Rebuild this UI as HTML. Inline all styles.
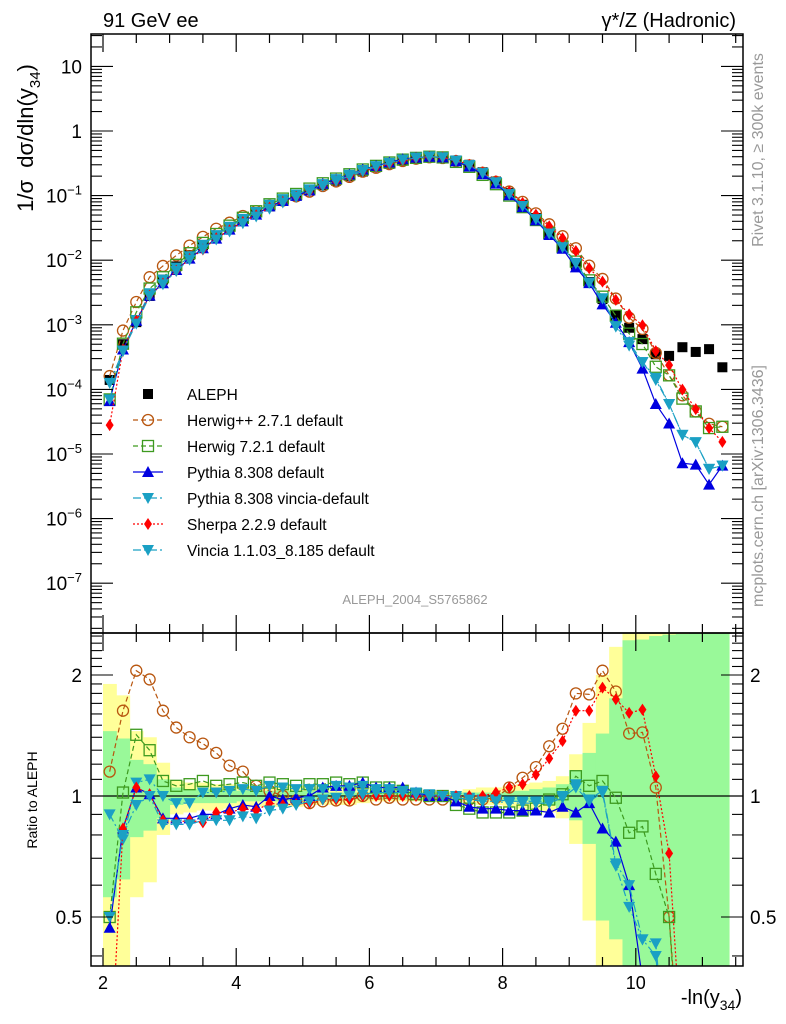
<!DOCTYPE html>
<html><head><meta charset="utf-8"><style>
html,body{margin:0;padding:0;background:#fff;width:786px;height:1024px;overflow:hidden;}
svg{display:block;font-family:"Liberation Sans",sans-serif;}
</style></head><body>
<svg id="chart" width="786" height="1024" viewBox="0 0 786 1024" xmlns="http://www.w3.org/2000/svg">
<defs>
<clipPath id="clipMain"><rect x="91" y="34" width="652" height="599"/></clipPath>
<clipPath id="clipRatio"><rect x="91" y="633" width="652" height="333"/></clipPath>
</defs>
<g id="bands" clip-path="url(#clipRatio)"></g>
<g id="ratioMarks" clip-path="url(#clipRatio)"></g>
<g id="mainMarks" clip-path="url(#clipMain)"></g>
<g id="axes"></g>
<text x="103" y="27" font-size="20">91 GeV ee</text>
<text x="736" y="27" font-size="20" text-anchor="end">γ*/Z (Hadronic)</text>
<text x="415" y="604" font-size="13" fill="#999" text-anchor="middle">ALEPH_2004_S5765862</text>
<text transform="translate(763,150) rotate(-90)" font-size="16" fill="#999" text-anchor="middle">Rivet 3.1.10, ≥ 300k events</text>
<text transform="translate(763,486) rotate(-90)" font-size="16" fill="#999" text-anchor="middle">mcplots.cern.ch [arXiv:1306.3436]</text>
<text transform="translate(33,138) rotate(-90)" font-size="22" text-anchor="middle" xml:space="preserve">1/σ  dσ/dln(y<tspan font-size="15" dy="7">34</tspan><tspan dy="-7">)</tspan></text>
<text transform="translate(37,800) rotate(-90)" font-size="14" text-anchor="middle">Ratio to ALEPH</text>
<text x="742" y="1004" font-size="20" text-anchor="end">-ln(y<tspan font-size="14" dy="6">34</tspan><tspan dy="-6">)</tspan></text>
<g id="legend"></g>
</svg>
<script>
// ---- data ----
const binCenters = [2.1,2.3,2.5,2.7,2.9,3.1,3.3,3.5,3.7,3.9,4.1,4.3,4.5,4.7,4.9,5.1,5.3,5.5,5.7,5.9,6.1,6.3,6.5,6.7,6.9,7.1,7.3,7.5,7.7,7.9,8.1,8.3,8.5,8.7,8.9,9.1,9.3,9.5,9.7,9.9,10.1,10.3,10.5,10.7,10.9,11.1,11.3];
const alephValues = [1.4e-4,5e-4,1.1e-3,2.8e-3,5e-3,8e-3,1.2e-2,1.7e-2,2.4e-2,3.2e-2,4.2e-2,5.4e-2,6.8e-2,8.4e-2,0.10,0.12,0.145,0.17,0.20,0.235,0.275,0.31,0.35,0.38,0.40,0.39,0.35,0.30,0.23,0.165,0.11,0.072,0.045,0.027,0.016,8.5e-3,4.6e-3,2.5e-3,1.4e-3,9e-4,6e-4,3.5e-4,3.3e-4,4.5e-4,3.8e-4,4.2e-4,2.2e-4];
const ratioHerwigPP = [1.15,1.63,2.05,1.95,1.63,1.48,1.40,1.35,1.28,1.19,1.15,1.06,1.03,1.0,0.975,0.96,0.97,0.975,0.975,1.0,0.98,0.99,0.98,0.98,0.98,0.98,0.98,0.98,0.98,0.99,1.05,1.11,1.18,1.33,1.47,1.80,1.79,2.05,1.82,1.43,1.44,1.05,0.5,0.18,0.12,0.07,0.12];
const ratioHerwig7 = [0.5,1.02,1.42,1.30,1.09,1.06,1.07,1.09,1.06,1.07,1.08,1.06,1.08,1.07,1.06,1.07,1.07,1.08,1.07,1.08,1.05,1.05,1.03,1.01,1.0,1.0,0.95,0.93,0.91,0.91,0.91,0.92,0.93,0.98,1.01,1.12,1.06,1.09,0.99,0.81,0.84,0.64,0.5,0.16,0.12,0.06,0.12];
const ratioPythia = [0.47,0.83,1.05,1.01,0.88,0.88,0.88,0.90,0.90,0.93,0.95,0.94,1.0,0.98,0.99,1.0,1.05,1.06,1.06,1.08,1.05,1.05,1.05,1.02,1.0,1.0,0.97,0.94,0.93,0.93,0.92,0.92,0.92,0.91,0.94,0.91,0.96,0.83,0.77,0.6,0.35,0.17,0.09,0.016,0.018,0.008,0.03];
const ratioPythiaVincia = [0.90,0.78,1.08,1.10,1.0,0.96,0.96,1.02,1.02,1.03,1.04,1.03,1.06,1.05,1.04,1.04,1.04,1.06,1.05,1.06,1.04,1.04,1.03,1.02,1.01,1.0,1.0,0.99,0.98,0.98,0.97,0.97,0.97,0.97,1.0,1.07,0.98,1.03,0.68,0.6,0.44,0.43,0.18,0.044,0.04,0.014,0.03];
const ratioSherpa = [0.2,0.83,1.05,1.01,0.87,0.86,0.87,0.86,0.91,0.91,0.93,0.92,0.96,0.95,0.955,0.96,0.98,0.98,0.98,1.0,1.0,1.0,1.0,1.0,1.0,1.0,1.0,1.0,1.0,1.02,1.05,1.07,1.13,1.24,1.37,1.63,1.63,1.86,1.74,1.61,1.64,1.12,0.72,0.22,0.13,0.06,0.07];
const ratioVincia = [0.5,0.80,0.95,1.0,0.85,0.85,0.85,0.87,0.87,0.87,0.89,0.88,0.92,0.93,0.95,0.97,0.98,0.99,1.0,1.01,1.02,1.02,1.02,1.01,1.0,1.0,0.99,0.98,0.97,0.97,0.96,0.96,0.96,0.96,0.99,1.05,0.97,1.02,0.67,0.53,0.44,0.4,0.18,0.044,0.04,0.014,0.03];
const yellowHi = [1.9,1.78,1.45,1.40,1.21,1.09,1.08,1.08,1.07,1.07,1.06,1.06,1.06,1.06,1.06,1.05,1.05,1.05,1.05,1.05,1.03,1.03,1.03,1.03,1.03,1.03,1.03,1.04,1.05,1.05,1.06,1.07,1.08,1.09,1.12,1.27,1.52,2.0,2.35,3,3,3,3,3,3,3,3];
const yellowLo = [0.3,0.3,0.56,0.61,0.80,0.90,0.91,0.92,0.92,0.93,0.93,0.94,0.94,0.94,0.94,0.95,0.95,0.95,0.95,0.96,0.97,0.97,0.97,0.97,0.97,0.97,0.97,0.96,0.95,0.95,0.94,0.93,0.92,0.91,0.88,0.76,0.49,0.3,0.3,0.3,0.3,0.3,0.3,0.3,0.3,0.3,0.3];
const greenHi = [1.45,1.39,1.23,1.2,1.1,1.05,1.04,1.04,1.04,1.04,1.03,1.03,1.03,1.03,1.03,1.03,1.02,1.02,1.02,1.02,1.02,1.02,1.02,1.02,1.02,1.02,1.02,1.02,1.02,1.02,1.03,1.03,1.04,1.05,1.07,1.16,1.28,1.43,1.75,2.44,2.45,2.5,2.52,2.53,2.55,2.56,2.58];
const greenLo = [0.56,0.62,0.79,0.82,0.88,0.95,0.96,0.96,0.96,0.96,0.97,0.97,0.97,0.97,0.97,0.97,0.98,0.98,0.98,0.98,0.98,0.98,0.98,0.98,0.98,0.98,0.98,0.98,0.98,0.98,0.97,0.97,0.96,0.95,0.93,0.87,0.76,0.49,0.44,0.3,0.3,0.3,0.3,0.3,0.3,0.3,0.3];
const xTicks = [2,4,6,8,10];
const yMainExps = [1,0,-1,-2,-3,-4,-5,-6,-7];
const ratioTicks = [2,1,0.5];
const legendLabels = ["ALEPH","Herwig++ 2.7.1 default","Herwig 7.2.1 default","Pythia 8.308 default","Pythia 8.308 vincia-default","Sherpa 2.2.9 default","Vincia 1.1.03_8.185 default"];

// ---- scales ----
const NS="http://www.w3.org/2000/svg";
function xs(v){return 103+(v-2)*66.6;}
function ym(v){return 131-Math.log10(v)*64.6;}
function yr(r){return 796-Math.log2(r)*121;}
function mk(tag,attrs,parent){const e=document.createElementNS(NS,tag);for(const k in attrs)e.setAttribute(k,attrs[k]);parent.appendChild(e);return e;}
const bandsG=document.getElementById('bands');
const ratioG=document.getElementById('ratioMarks');
const mainG=document.getElementById('mainMarks');
const axesG=document.getElementById('axes');
const legG=document.getElementById('legend');
const halfW=0.1;

binCenters.forEach((c,i)=>{
  const y=mk('rect',{x:xs(c-halfW),y:yr(yellowHi[i]),width:xs(c+halfW)-xs(c-halfW)+0.5,height:yr(yellowLo[i])-yr(yellowHi[i]),fill:'#ffff99'},bandsG);
  
  
});
binCenters.forEach((c,i)=>{
  const g=mk('rect',{x:xs(c-halfW),y:yr(greenHi[i]),width:xs(c+halfW)-xs(c-halfW)+0.5,height:yr(greenLo[i])-yr(greenHi[i]),fill:'#99f999'},bandsG);
  
  
});
const one=mk('line',{x1:91,x2:743,y1:yr(1),y2:yr(1),stroke:'#000','stroke-width':1.2},bandsG);



function marker(type,cx,cy,color,parent){
  let e;
  if(type==='circle') e=mk('circle',{cx,cy,r:5.5,fill:'none',stroke:color,'stroke-width':1.3},parent);
  else if(type==='square') e=mk('rect',{x:cx-5.5,y:cy-5.5,width:11,height:11,fill:'none',stroke:color,'stroke-width':1.3},parent);
  else if(type==='tup') e=mk('polygon',{points:`${cx},${cy-6} ${cx-6},${cy+5} ${cx+6},${cy+5}`,fill:color},parent);
  else if(type==='tdown') e=mk('polygon',{points:`${cx},${cy+6} ${cx-6},${cy-5} ${cx+6},${cy-5}`,fill:color},parent);
  else if(type==='diamond') e=mk('polygon',{points:`${cx},${cy-6} ${cx-4},${cy} ${cx},${cy+6} ${cx+4},${cy}`,fill:color},parent);
  else e=mk('rect',{x:cx-5,y:cy-5,width:10,height:10,fill:color},parent);
  return e;
}
const series=[
  {name:'herwigpp',ratio:ratioHerwigPP,color:'#b8560f',dash:'5,3',type:'circle'},
  {name:'herwig7',ratio:ratioHerwig7,color:'#3d9a1f',dash:'5,3',type:'square'},
  {name:'pythia',ratio:ratioPythia,color:'#0000e0',dash:'',type:'tup'},
  {name:'pythia-vincia',ratio:ratioPythiaVincia,color:'#1aa0c4',dash:'8,3,2,3',type:'tdown'},
  {name:'sherpa',ratio:ratioSherpa,color:'#ff0000',dash:'2,2',type:'diamond'},
  {name:'vincia',ratio:ratioVincia,color:'#1aa0c4',dash:'8,3,2,3',type:'tdown'}
];
binCenters.forEach((c,i)=>{
  const m=marker('data',xs(c),ym(alephValues[i]),'#000',mainG);
  
  
});
series.forEach(s=>{
  const mainPts=binCenters.map((c,i)=>[xs(c),ym(alephValues[i]*s.ratio[i])]);
  const ratPts=binCenters.map((c,i)=>[xs(c),yr(s.ratio[i])]);
  const l1=mk('polyline',{points:mainPts.map(p=>p.join(',')).join(' '),fill:'none',stroke:s.color,'stroke-width':1.2,'stroke-dasharray':s.dash},mainG);
  
  
  const l2=mk('polyline',{points:ratPts.map(p=>p.join(',')).join(' '),fill:'none',stroke:s.color,'stroke-width':1.2,'stroke-dasharray':s.dash},ratioG);
  
  
  mainPts.forEach(p=>{const m=marker(s.type,p[0],p[1],s.color,mainG);
    
    });
  ratPts.forEach(p=>{const m=marker(s.type,p[0],p[1],s.color,ratioG);
    
    });
});

[[91,34,652,599],[91,633,652,333]].forEach((r,k)=>{
  const f=mk('rect',{x:r[0],y:r[1],width:r[2],height:r[3],fill:'none',stroke:'#000','stroke-width':1.5},axesG);
  
  
});
for(let v=2;v<=11.5;v+=0.5){
  const major=Math.abs(v-Math.round(v/2)*2)<1e-6;
  const L=major?18:9;
  [[34,1],[633,-1],[633,1],[966,-1]].forEach(([y0,d])=>{
    const t=mk('line',{x1:xs(v),x2:xs(v),y1:y0,y2:y0+d*L,stroke:'#000','stroke-width':1.2},axesG);
    
    
  });
}
xTicks.forEach(v=>{
  const t=mk('text',{x:xs(v),y:989,'font-size':18,'text-anchor':'middle'},axesG);
  t.textContent=v;
  
  
});
for(let e=-8;e<=1;e++){
  for(let m=1;m<=9;m++){
    const v=m*Math.pow(10,e);const y=ym(v);
    if(y<34||y>633)continue;
    const L=m===1?22:11;
    [[91,1],[743,-1]].forEach(([x0,d])=>{
      const t=mk('line',{x1:x0,x2:x0+d*L,y1:y,y2:y,stroke:'#000','stroke-width':1.1},axesG);
      
      
    });
  }
}
yMainExps.forEach(e=>{
  const t=mk('text',{x:82,y:ym(Math.pow(10,e))+7,'font-size':19,'text-anchor':'end'},axesG);
  
  
  if(e===1)t.textContent='10';else if(e===0)t.textContent='1';
  else{t.textContent='10';const s=mk('tspan',{'font-size':13,dy:-8},t);s.textContent='−'+(-e);}
});
[0.4,0.5,0.6,0.7,0.8,0.9,1,1.1,1.2,1.3,1.4,1.5,1.6,1.7,1.8,1.9,2,2.1,2.2,2.3,2.4,2.5].forEach(r=>{
  const major=(r===0.5||r===1||r===2);const L=major?22:11;const y=yr(r);
  if(y<633||y>966)return;
  [[91,1],[743,-1]].forEach(([x0,d])=>{
    const t=mk('line',{x1:x0,x2:x0+d*L,y1:y,y2:y,stroke:'#000','stroke-width':1.1},axesG);
    
    
  });
});
ratioTicks.forEach(r=>{
  [[82,'end'],[750,'start']].forEach(([x,a])=>{
    const t=mk('text',{x,y:yr(r)+7,'font-size':19,'text-anchor':a},axesG);
    t.textContent=r;
    
    
  });
});
const legStyles=[{type:'data',color:'#000',dash:''}].concat(series.map(s=>({type:s.type,color:s.color,dash:s.dash})));
legendLabels.forEach((lab,i)=>{
  const y=394+i*26;
  const g=mk('g',{},legG);
  
  
  const st=legStyles[i];
  if(i>0) mk('line',{x1:133,x2:163,y1:y,y2:y,stroke:st.color,'stroke-width':1.2,'stroke-dasharray':st.dash},g);
  marker(st.type,148,y,st.color,g);
  const t=mk('text',{x:187,y:y+6,'font-size':15.5},g);
  t.textContent=lab;
});
</script>
</body></html>
